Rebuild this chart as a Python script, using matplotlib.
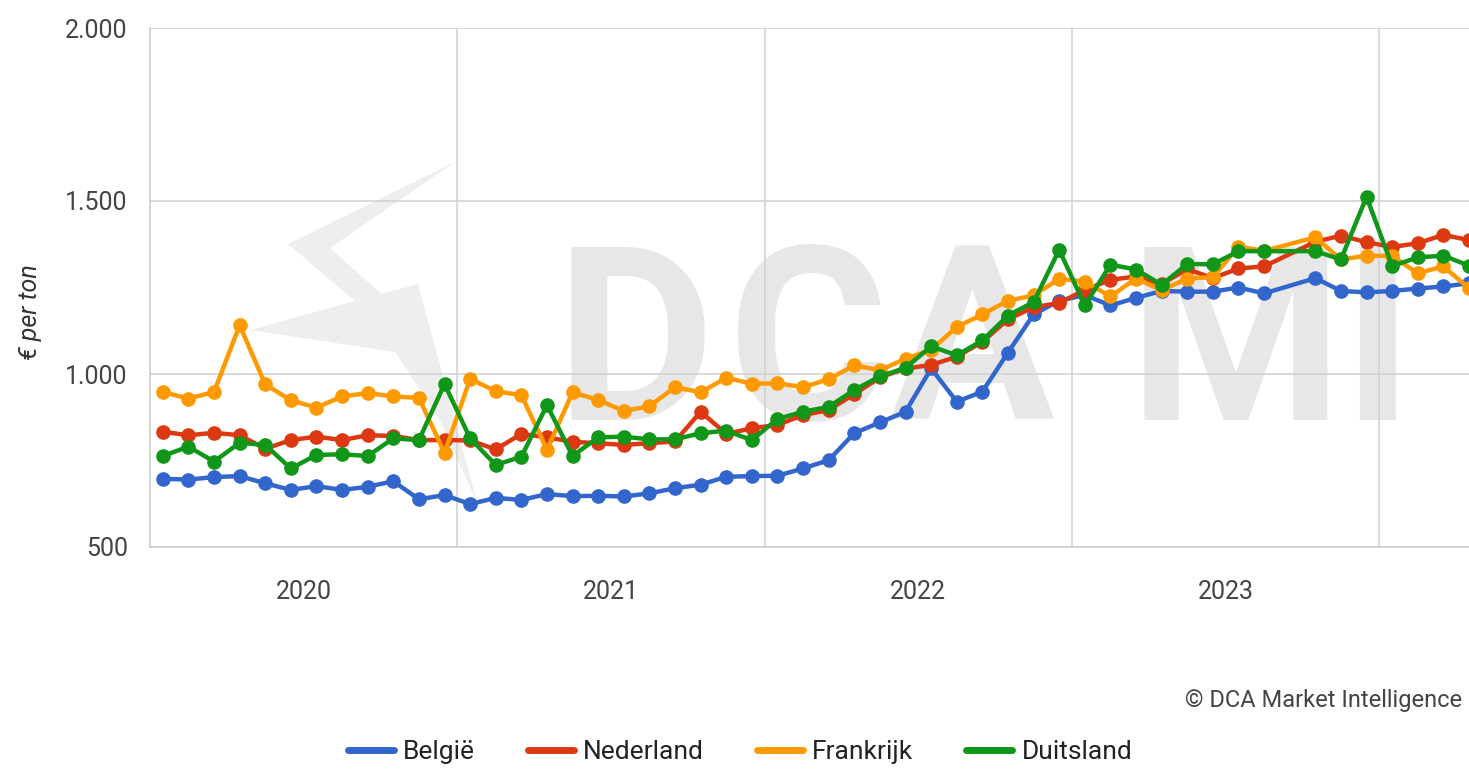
import numpy as np
import matplotlib
matplotlib.use("Agg")
import matplotlib.pyplot as plt
from matplotlib.lines import Line2D
from matplotlib.patches import Polygon

plt.rcParams["font.family"] = ["Roboto", "DejaVu Sans"]

# ---------------------------------------------------------------------------
# Data: monthly prices (EUR per ton), Jan 2020 - Apr 2024 (no Sep 2023 value)
# ---------------------------------------------------------------------------
months = [(y, m) for y in range(2020, 2025) for m in range(1, 13)
          if (y, m) <= (2024, 4) and (y, m) != (2023, 9)]

belgie = [697, 695, 702, 705, 684, 665, 676, 665, 674, 690, 638, 650,
          624, 642, 636, 653, 647, 648, 646, 655, 670, 680, 703, 705,
          706, 727, 751, 829, 860, 891, 1016, 920, 949, 1062, 1172, 1212,
          1228, 1198, 1220, 1240, 1238, 1238, 1250, 1233, 1277, 1240, 1236,
          1240, 1247, 1253, 1262]
nederland = [833, 823, 830, 823, 784, 809, 819, 809, 823, 821, 809, 809,
             808, 782, 827, 817, 804, 800, 795, 800, 805, 891, 827, 843,
             853, 881, 896, 942, 990, 1016, 1026, 1050, 1093, 1158, 1193, 1205,
             1243, 1272, 1282, 1260, 1303, 1277, 1305, 1311, 1382, 1400, 1381,
             1367, 1378, 1402, 1387]
frankrijk = [948, 929, 948, 1141, 970, 924, 903, 935, 945, 935, 931, 772,
             986, 950, 939, 781, 947, 925, 893, 907, 962, 947, 989, 972,
             973, 962, 985, 1025, 1011, 1044, 1070, 1136, 1172, 1212, 1227, 1275,
             1267, 1224, 1276, 1242, 1276, 1280, 1368, 1356, 1395, 1331, 1342,
             1341, 1291, 1311, 1248]
duitsland = [763, 790, 747, 801, 795, 727, 766, 768, 763, 814, 809, 971,
             814, 737, 761, 910, 763, 817, 819, 811, 811, 829, 836, 809,
             870, 891, 905, 954, 993, 1018, 1080, 1054, 1097, 1169, 1208, 1359,
             1198, 1316, 1302, 1258, 1318, 1317, 1355, 1355, 1355, 1331, 1512,
             1312, 1337, 1342, 1313]

series = [("België", belgie, "#3366cc"),
          ("Nederland", nederland, "#dc3912"),
          ("Frankrijk", frankrijk, "#ff9900"),
          ("Duitsland", duitsland, "#109618")]

years = [2020, 2021, 2022, 2023]
yticks = [500, 1000, 1500, 2000]

# month position: middle of each month, counted from Jan 2020
x = np.array([(y - 2020) * 12 + (m - 1) + 0.5 for y, m in months])

W, H = 1469, 770
fig = plt.figure(figsize=(W / 100, H / 100), dpi=100)
ax = fig.add_axes([150 / W, 223 / H, 1319 / W, 519 / H])

# watermark (DCA MI) behind everything, letters spaced like the original
for ch, cx in zip(["D", "C", "A", "MI"], [0.368, 0.499, 0.623, 0.85]):
    ax.text(cx, 0.245, ch, transform=ax.transAxes, ha="center", va="baseline",
            fontsize=176, fontweight="bold", color="#e7e7e7", zorder=0)


def px(pts):
    return [((px_ - 150) / 1319, (547 - py_) / 519) for px_, py_ in pts]


logo_up = px([(455, 162), (288, 244), (395, 335), (408, 318), (330, 248)])
logo_low = px([(250, 330), (418, 284), (478, 505), (440, 420), (395, 352)])
for pts in (logo_up, logo_low):
    ax.add_patch(Polygon(pts, closed=True, transform=ax.transAxes,
                         facecolor="#eeeeee", edgecolor="none", zorder=0))

for name, vals, col in series:
    ax.plot(x, vals, color=col, lw=3.2, marker="o", ms=9.5, zorder=3,
            solid_joinstyle="round")

ax.set_xlim(0, 51.5)
ax.set_ylim(500, 2000)
ax.set_yticks(yticks)
ax.set_yticklabels([f"{v:,}".replace(",", ".") for v in yticks])
ax.set_xticks([0, 12, 24, 36, 48])
ax.set_xticklabels([])
ax.set_xticks([i * 12 + 6 for i in range(len(years))], minor=True)
ax.set_xticklabels([str(y) for y in years], minor=True)
ax.tick_params(axis="both", which="both", length=0, labelsize=18, colors="#444444")
ax.tick_params(axis="y", pad=16)
ax.tick_params(axis="x", which="minor", pad=24)
ax.grid(True, which="major", color="#d0d0d0", lw=1.1, zorder=1)
for s in ["top", "right"]:
    ax.spines[s].set_visible(False)
for s in ["left", "bottom"]:
    ax.spines[s].set_color("#cccccc")
    ax.spines[s].set_linewidth(1.1)

fig.text(30 / W, 1 - 312 / H, "€ per ton", rotation=90, ha="center", va="center",
         fontsize=18, style="italic", color="#333333")

fig.text(1462 / W, 1 - 700 / H, "© DCA Market Intelligence", ha="right",
         va="center", fontsize=17, color="#444444")

handles = [Line2D([0], [0], color=c, lw=5, solid_capstyle="round")
           for _, _, c in series]
fig.legend(handles, [n for n, _, _ in series], loc="center",
           bbox_to_anchor=(740 / W, 1 - 752 / H), ncol=4, frameon=False,
           fontsize=19, handlelength=1.75, handletextpad=0.35, columnspacing=2.0,
           labelcolor="#222222")

fig.savefig("out.png", dpi=100)
